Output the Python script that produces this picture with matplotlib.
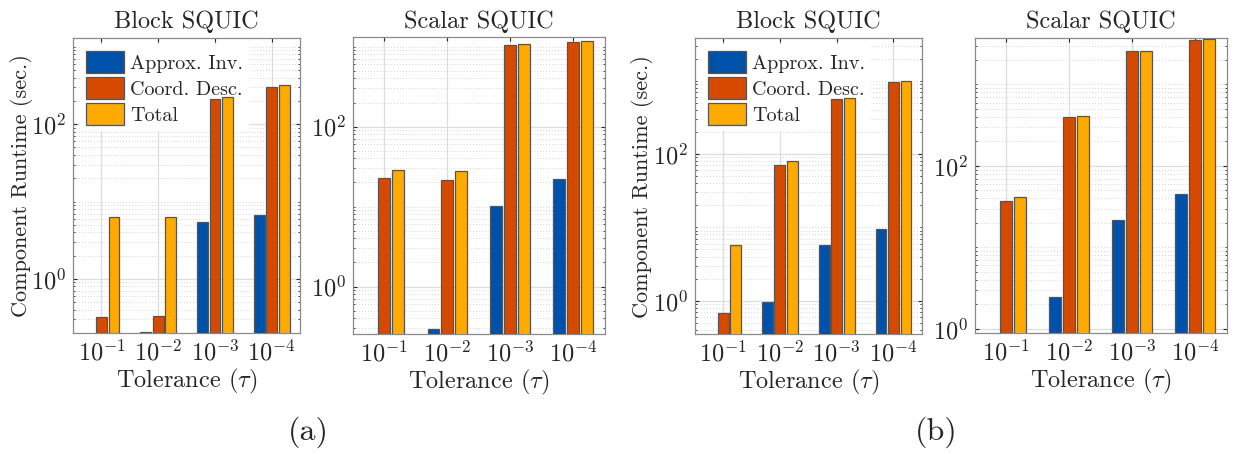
import matplotlib
matplotlib.use('Agg')
import matplotlib.pyplot as plt
from matplotlib.ticker import LogLocator, NullFormatter, FixedLocator
import numpy as np

plt.rcParams['font.family'] = 'serif'
plt.rcParams['font.serif'] = ['cmr10', 'DejaVu Serif']
plt.rcParams['mathtext.fontset'] = 'cm'
plt.rcParams['axes.formatter.use_mathtext'] = True
plt.rcParams['axes.unicode_minus'] = False

# ── Colours ──
BLUE = '#0051AA'
ORANGE = '#D54A00'
YELLOW = '#FFAA00'
EDGE = '#555555'
TXT = '#262626'

# ── Data (seconds) ──
tolerances = [r'$10^{-1}$', r'$10^{-2}$', r'$10^{-3}$', r'$10^{-4}$']
series_names = ['Approx. Inv.', 'Coord. Desc.', 'Total']

a_block_inv = [np.nan, 0.206, 5.4, 6.7]
a_block_cd = [0.32, 0.33, 210, 299]
a_block_tot = [6.4, 6.4, 227, 321]

a_scalar_inv = [np.nan, 0.296, 10.3, 22.2]
a_scalar_cd = [22.6, 21.5, 1048, 1143]
a_scalar_tot = [28.7, 27.9, 1080, 1188]

b_block_inv = [np.nan, 0.95, 5.8, 9.6]
b_block_cd = [0.68, 71.6, 569, 959]
b_block_tot = [5.8, 81, 587, 988]

b_scalar_inv = [np.nan, 2.44, 21.4, 45]
b_scalar_cd = [36.6, 402, 2560, 3556]
b_scalar_tot = [41.3, 410, 2583, 3590]

FS = 17.5


def panel(fig, rect, title, inv, cd, tot, ylim, ylabel=False, legend=False):
    ax = fig.add_axes(rect)
    x = np.arange(1, len(tolerances) + 1)
    w = 0.19
    for off, vals, col, name in zip([-0.22, 0, 0.22], [inv, cd, tot],
                                    [BLUE, ORANGE, YELLOW], series_names):
        ax.bar(x + off, vals, w, color=col, edgecolor=EDGE, linewidth=0.9,
               label=name, zorder=3)
    ax.set_yscale('log')
    ax.set_ylim(*ylim)
    ax.set_xlim(0.5, 4.5)
    ax.set_xticks(x)
    ax.set_xticklabels(tolerances)
    ax.yaxis.set_major_locator(FixedLocator([1, 100]))
    ax.yaxis.set_minor_locator(LogLocator(base=10, subs=np.arange(1, 10), numticks=20))
    ax.yaxis.set_minor_formatter(NullFormatter())
    ax.grid(True, which='major', color='#DDDDDD', lw=0.9, zorder=0)
    ax.grid(True, which='minor', axis='y', color='#C8C8C8', lw=0.6,
            linestyle=(0, (1, 2.5)), zorder=0)
    ax.tick_params(which='both', direction='in', top=True, right=True,
                   labelsize=FS, colors=TXT, length=3, pad=5)
    ax.tick_params(which='minor', length=1.5)
    for s in ax.spines.values():
        s.set_color('#8A8A8A')
        s.set_linewidth(0.9)
    ax.set_title(title, fontsize=FS, color=TXT, pad=7)
    ax.set_xlabel(r'Tolerance ($\tau$)', fontsize=FS, color=TXT, labelpad=1)
    if ylabel:
        ax.set_ylabel('Component Runtime (sec.)', fontsize=16, color=TXT)
        ax.yaxis.label.set_verticalalignment('center')
        ax.yaxis.set_label_coords(-0.228, 0.5)
    if legend:
        leg = ax.legend(loc='upper left', fontsize=14.5, frameon=True,
                        fancybox=False, edgecolor='none', framealpha=1,
                        handlelength=1.9, handleheight=1.3, handletextpad=0.3,
                        labelspacing=0.2, borderaxespad=0.35, borderpad=0.3)
        leg.set_zorder(2.5)
        for t in leg.get_texts():
            t.set_color(TXT)
    return ax


fig = plt.figure(figsize=(12.34, 4.54), dpi=100, facecolor='white')

panel(fig, [0.0592, 0.2665, 0.184, 0.650], 'Block SQUIC',
      a_block_inv, a_block_cd, a_block_tot, (0.2, 1300), ylabel=True, legend=True)
panel(fig, [0.286, 0.264, 0.204, 0.654], 'Scalar SQUIC',
      a_scalar_inv, a_scalar_cd, a_scalar_tot, (0.254, 1310))
panel(fig, [0.563, 0.264, 0.184, 0.652], 'Block SQUIC',
      b_block_inv, b_block_cd, b_block_tot, (0.35, 3800), ylabel=True, legend=True)
panel(fig, [0.790, 0.2665, 0.204, 0.650], 'Scalar SQUIC',
      b_scalar_inv, b_scalar_cd, b_scalar_tot, (0.89, 3725))

fig.text(308 / 1234, 1 - 432 / 454, '(a)', ha='center', va='center', fontsize=23, color=TXT)
fig.text(936 / 1234, 1 - 432 / 454, '(b)', ha='center', va='center', fontsize=23, color=TXT)

fig.savefig('out.png', dpi=100, facecolor='white')
plt.close()
